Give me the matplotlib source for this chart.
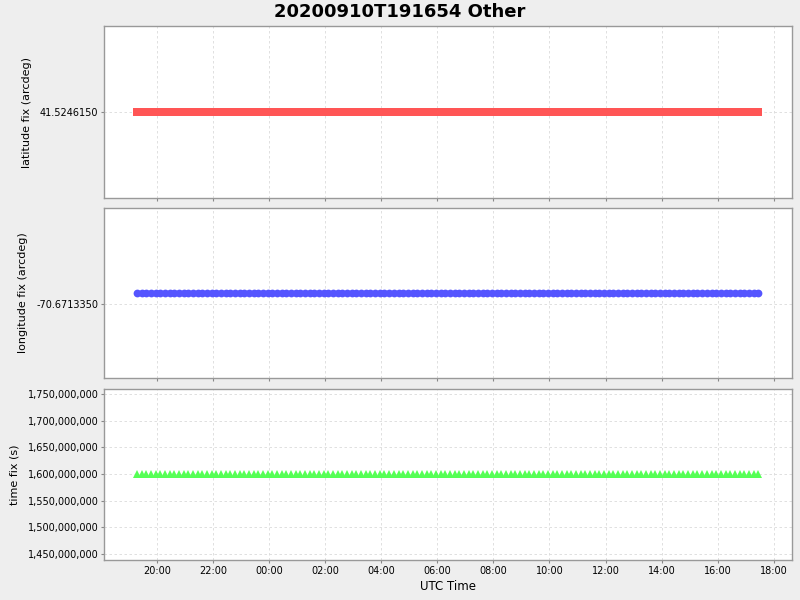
import matplotlib
matplotlib.use("Agg")
import matplotlib.pyplot as plt
import matplotlib.dates as mdates
import matplotlib.ticker as mticker
import pandas as pd
from datetime import datetime

# ---- data ----
title = "20200910T191654 Other"
start_time = "2020-09-10 19:16:54"
end_time = "2020-09-11 17:26:54"
sample_step = "10min"
times = pd.date_range(start_time, end_time, freq=sample_step)
n = len(times)

latitude_value = 41.5246150
longitude_value = -70.6713346
timefix_value = 1599800000

latitude = [latitude_value] * n
longitude = [longitude_value] * n
timefix = [timefix_value] * n

lat_ticks = [41.5246150]
lon_ticks = [-70.6713350]
time_ticks = [1450000000, 1500000000, 1550000000, 1600000000,
              1650000000, 1700000000, 1750000000]

y_labels = ["latitude fix (arcdeg)", "longitude fix (arcdeg)", "time fix (s)"]
x_label = "UTC Time"

# ---- figure ----
fig = plt.figure(figsize=(8, 6), dpi=100, facecolor="#EEEEEE")
left, width = 104 / 800, 688 / 800
ax1 = fig.add_axes([left, 1 - 198 / 600, width, 172 / 600])
ax2 = fig.add_axes([left, 1 - 378 / 600, width, 170 / 600], sharex=ax1)
ax3 = fig.add_axes([left, 1 - 560 / 600, width, 171 / 600], sharex=ax1)

ax1.plot(times, latitude, linestyle="none", marker="s", markersize=5.6,
         color="#FF5555", markeredgewidth=0)
ax2.plot(times, longitude, linestyle="none", marker="o", markersize=5.6,
         color="#5555FF", markeredgewidth=0)
ax3.plot(times, timefix, linestyle="none", marker="^", markersize=6.2,
         color="#55FF55", markeredgewidth=0)

ax1.set_ylim(latitude_value - 1e-6, latitude_value + 1e-6)
ax1.set_yticks(lat_ticks)
ax1.yaxis.set_major_formatter(mticker.FuncFormatter(lambda v, p: f"{v:.7f}"))

ax2.set_ylim(longitude_value - 3.1e-6, longitude_value + 3.1e-6)
ax2.set_yticks(lon_ticks)
ax2.yaxis.set_major_formatter(mticker.FuncFormatter(lambda v, p: f"{v:.7f}"))

ax3.set_ylim(1438800000, 1759400000)
ax3.set_yticks(time_ticks)
ax3.yaxis.set_major_formatter(mticker.FuncFormatter(lambda v, p: f"{int(round(v)):,}"))

ax3.set_xlim(datetime(2020, 9, 10, 18, 6, 30), datetime(2020, 9, 11, 18, 39, 12))
ax3.xaxis.set_major_locator(mdates.HourLocator(byhour=range(0, 24, 2)))
ax3.xaxis.set_major_formatter(mdates.DateFormatter("%H:%M"))

for ax, lab in zip([ax1, ax2, ax3], y_labels):
    ax.set_facecolor("white")
    ax.grid(True, color="#DADADA", linestyle=(0, (3, 3)), linewidth=0.6)
    ax.set_axisbelow(True)
    for s in ax.spines.values():
        s.set_color("#999999")
        s.set_linewidth(1.0)
    ax.tick_params(axis="both", labelsize=7, length=2, color="#888888",
                   pad=2, labelcolor="black")
    ax.set_ylabel(lab, fontsize=8, labelpad=6)

ax1.tick_params(axis="x", labelbottom=False)
ax2.tick_params(axis="x", labelbottom=False)
ax3.set_xlabel(x_label, fontsize=8.5, labelpad=3)

fig.suptitle(title, fontsize=13, fontweight="bold", y=0.995, va="top")

fig.savefig("out.png", dpi=100, facecolor=fig.get_facecolor())
